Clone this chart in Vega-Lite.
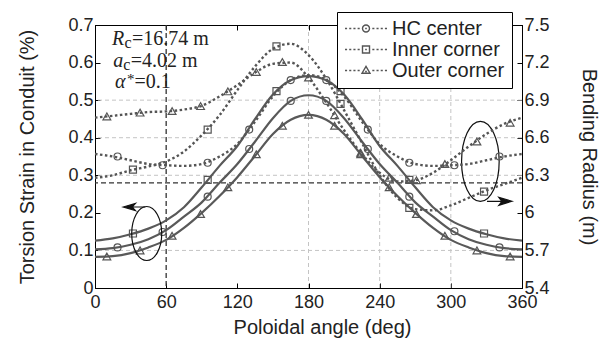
{
  "$schema": "https://vega.github.io/schema/vega-lite/v6.json",
  "width": 427,
  "height": 263,
  "autosize": {"type": "none"},
  "padding": {"left": 95, "top": 25, "right": 85, "bottom": 50},
  "config": {
    "view": {"stroke": "#000", "strokeWidth": 1},
    "axis": {
      "labelFont": "Liberation Sans", "labelFontSize": 18, "labelColor": "#222",
      "titleFont": "Liberation Sans", "titleFontSize": 20, "titleFontWeight": "normal", "titleColor": "#222",
      "domainColor": "#000", "tickColor": "#000", "grid": false, "tickSize": -5, "labelPadding": 7,
      "labelOverlap": false, "labelFlush": false, "labelBound": false
    }
  },
  "datasets": {
    "strain": [
      {"loc": "Inner corner", "angle": 0, "strain": 0.126}, {"loc": "Inner corner", "angle": 15, "strain": 0.132},
      {"loc": "Inner corner", "angle": 30, "strain": 0.143}, {"loc": "Inner corner", "angle": 45, "strain": 0.158},
      {"loc": "Inner corner", "angle": 60, "strain": 0.18}, {"loc": "Inner corner", "angle": 75, "strain": 0.215},
      {"loc": "Inner corner", "angle": 90, "strain": 0.268}, {"loc": "Inner corner", "angle": 105, "strain": 0.325},
      {"loc": "Inner corner", "angle": 120, "strain": 0.378}, {"loc": "Inner corner", "angle": 135, "strain": 0.45},
      {"loc": "Inner corner", "angle": 150, "strain": 0.515}, {"loc": "Inner corner", "angle": 165, "strain": 0.553},
      {"loc": "Inner corner", "angle": 180, "strain": 0.564}, {"loc": "Inner corner", "angle": 195, "strain": 0.553},
      {"loc": "Inner corner", "angle": 210, "strain": 0.515}, {"loc": "Inner corner", "angle": 225, "strain": 0.45},
      {"loc": "Inner corner", "angle": 240, "strain": 0.378}, {"loc": "Inner corner", "angle": 255, "strain": 0.325},
      {"loc": "Inner corner", "angle": 270, "strain": 0.268}, {"loc": "Inner corner", "angle": 285, "strain": 0.215},
      {"loc": "Inner corner", "angle": 300, "strain": 0.18}, {"loc": "Inner corner", "angle": 315, "strain": 0.158},
      {"loc": "Inner corner", "angle": 330, "strain": 0.143}, {"loc": "Inner corner", "angle": 345, "strain": 0.132},
      {"loc": "Inner corner", "angle": 360, "strain": 0.126},
      {"loc": "HC center", "angle": 0, "strain": 0.103}, {"loc": "HC center", "angle": 15, "strain": 0.106},
      {"loc": "HC center", "angle": 30, "strain": 0.115}, {"loc": "HC center", "angle": 45, "strain": 0.13},
      {"loc": "HC center", "angle": 60, "strain": 0.154}, {"loc": "HC center", "angle": 75, "strain": 0.19},
      {"loc": "HC center", "angle": 90, "strain": 0.228}, {"loc": "HC center", "angle": 105, "strain": 0.28},
      {"loc": "HC center", "angle": 120, "strain": 0.33}, {"loc": "HC center", "angle": 135, "strain": 0.39},
      {"loc": "HC center", "angle": 150, "strain": 0.452}, {"loc": "HC center", "angle": 165, "strain": 0.498},
      {"loc": "HC center", "angle": 180, "strain": 0.513}, {"loc": "HC center", "angle": 195, "strain": 0.498},
      {"loc": "HC center", "angle": 210, "strain": 0.452}, {"loc": "HC center", "angle": 225, "strain": 0.39},
      {"loc": "HC center", "angle": 240, "strain": 0.33}, {"loc": "HC center", "angle": 255, "strain": 0.28},
      {"loc": "HC center", "angle": 270, "strain": 0.228}, {"loc": "HC center", "angle": 285, "strain": 0.19},
      {"loc": "HC center", "angle": 300, "strain": 0.154}, {"loc": "HC center", "angle": 315, "strain": 0.13},
      {"loc": "HC center", "angle": 330, "strain": 0.115}, {"loc": "HC center", "angle": 345, "strain": 0.106},
      {"loc": "HC center", "angle": 360, "strain": 0.103},
      {"loc": "Outer corner", "angle": 0, "strain": 0.083}, {"loc": "Outer corner", "angle": 15, "strain": 0.085},
      {"loc": "Outer corner", "angle": 30, "strain": 0.093}, {"loc": "Outer corner", "angle": 45, "strain": 0.108},
      {"loc": "Outer corner", "angle": 60, "strain": 0.128}, {"loc": "Outer corner", "angle": 75, "strain": 0.16},
      {"loc": "Outer corner", "angle": 90, "strain": 0.2}, {"loc": "Outer corner", "angle": 105, "strain": 0.245},
      {"loc": "Outer corner", "angle": 120, "strain": 0.295}, {"loc": "Outer corner", "angle": 135, "strain": 0.352},
      {"loc": "Outer corner", "angle": 150, "strain": 0.41}, {"loc": "Outer corner", "angle": 165, "strain": 0.448},
      {"loc": "Outer corner", "angle": 180, "strain": 0.461}, {"loc": "Outer corner", "angle": 195, "strain": 0.448},
      {"loc": "Outer corner", "angle": 210, "strain": 0.41}, {"loc": "Outer corner", "angle": 225, "strain": 0.352},
      {"loc": "Outer corner", "angle": 240, "strain": 0.295}, {"loc": "Outer corner", "angle": 255, "strain": 0.245},
      {"loc": "Outer corner", "angle": 270, "strain": 0.2}, {"loc": "Outer corner", "angle": 285, "strain": 0.16},
      {"loc": "Outer corner", "angle": 300, "strain": 0.128}, {"loc": "Outer corner", "angle": 315, "strain": 0.108},
      {"loc": "Outer corner", "angle": 330, "strain": 0.093}, {"loc": "Outer corner", "angle": 345, "strain": 0.085},
      {"loc": "Outer corner", "angle": 360, "strain": 0.083}
    ],
    "bend": [
      {"loc": "HC center", "angle": 0, "R": 6.47}, {"loc": "HC center", "angle": 15, "R": 6.45},
      {"loc": "HC center", "angle": 30, "R": 6.42}, {"loc": "HC center", "angle": 45, "R": 6.39},
      {"loc": "HC center", "angle": 60, "R": 6.38}, {"loc": "HC center", "angle": 75, "R": 6.375},
      {"loc": "HC center", "angle": 90, "R": 6.39}, {"loc": "HC center", "angle": 105, "R": 6.45},
      {"loc": "HC center", "angle": 120, "R": 6.55}, {"loc": "HC center", "angle": 135, "R": 6.73},
      {"loc": "HC center", "angle": 150, "R": 6.93}, {"loc": "HC center", "angle": 165, "R": 7.06},
      {"loc": "HC center", "angle": 180, "R": 7.1}, {"loc": "HC center", "angle": 195, "R": 7.06},
      {"loc": "HC center", "angle": 210, "R": 6.93}, {"loc": "HC center", "angle": 225, "R": 6.73},
      {"loc": "HC center", "angle": 240, "R": 6.55}, {"loc": "HC center", "angle": 255, "R": 6.45},
      {"loc": "HC center", "angle": 270, "R": 6.39}, {"loc": "HC center", "angle": 285, "R": 6.375},
      {"loc": "HC center", "angle": 300, "R": 6.38}, {"loc": "HC center", "angle": 315, "R": 6.39},
      {"loc": "HC center", "angle": 330, "R": 6.42}, {"loc": "HC center", "angle": 345, "R": 6.45},
      {"loc": "HC center", "angle": 360, "R": 6.47},
      {"loc": "Inner corner", "angle": 0, "R": 6.28}, {"loc": "Inner corner", "angle": 15, "R": 6.3},
      {"loc": "Inner corner", "angle": 30, "R": 6.34}, {"loc": "Inner corner", "angle": 45, "R": 6.37},
      {"loc": "Inner corner", "angle": 60, "R": 6.41}, {"loc": "Inner corner", "angle": 75, "R": 6.49},
      {"loc": "Inner corner", "angle": 90, "R": 6.62}, {"loc": "Inner corner", "angle": 105, "R": 6.78},
      {"loc": "Inner corner", "angle": 120, "R": 6.98}, {"loc": "Inner corner", "angle": 135, "R": 7.17},
      {"loc": "Inner corner", "angle": 150, "R": 7.31}, {"loc": "Inner corner", "angle": 165, "R": 7.35},
      {"loc": "Inner corner", "angle": 180, "R": 7.26}, {"loc": "Inner corner", "angle": 195, "R": 7.07},
      {"loc": "Inner corner", "angle": 210, "R": 6.82}, {"loc": "Inner corner", "angle": 225, "R": 6.56},
      {"loc": "Inner corner", "angle": 240, "R": 6.3}, {"loc": "Inner corner", "angle": 255, "R": 6.12},
      {"loc": "Inner corner", "angle": 270, "R": 6.03}, {"loc": "Inner corner", "angle": 285, "R": 6.02},
      {"loc": "Inner corner", "angle": 300, "R": 6.06}, {"loc": "Inner corner", "angle": 315, "R": 6.12},
      {"loc": "Inner corner", "angle": 330, "R": 6.18}, {"loc": "Inner corner", "angle": 345, "R": 6.23},
      {"loc": "Inner corner", "angle": 360, "R": 6.28},
      {"loc": "Outer corner", "angle": 0, "R": 6.76}, {"loc": "Outer corner", "angle": 15, "R": 6.775},
      {"loc": "Outer corner", "angle": 30, "R": 6.79}, {"loc": "Outer corner", "angle": 45, "R": 6.805},
      {"loc": "Outer corner", "angle": 60, "R": 6.81}, {"loc": "Outer corner", "angle": 75, "R": 6.825},
      {"loc": "Outer corner", "angle": 90, "R": 6.855}, {"loc": "Outer corner", "angle": 105, "R": 6.93},
      {"loc": "Outer corner", "angle": 120, "R": 7.02}, {"loc": "Outer corner", "angle": 135, "R": 7.12},
      {"loc": "Outer corner", "angle": 150, "R": 7.19}, {"loc": "Outer corner", "angle": 165, "R": 7.2},
      {"loc": "Outer corner", "angle": 180, "R": 7.08}, {"loc": "Outer corner", "angle": 195, "R": 6.88},
      {"loc": "Outer corner", "angle": 210, "R": 6.66}, {"loc": "Outer corner", "angle": 225, "R": 6.47},
      {"loc": "Outer corner", "angle": 240, "R": 6.32}, {"loc": "Outer corner", "angle": 255, "R": 6.25},
      {"loc": "Outer corner", "angle": 270, "R": 6.26}, {"loc": "Outer corner", "angle": 285, "R": 6.32},
      {"loc": "Outer corner", "angle": 300, "R": 6.42}, {"loc": "Outer corner", "angle": 315, "R": 6.53},
      {"loc": "Outer corner", "angle": 330, "R": 6.63}, {"loc": "Outer corner", "angle": 345, "R": 6.71},
      {"loc": "Outer corner", "angle": 360, "R": 6.76}
    ],
    "strainMk": [
      {"loc": "Inner corner", "angle": 32, "strain": 0.145}, {"loc": "Inner corner", "angle": 95, "strain": 0.288},
      {"loc": "Inner corner", "angle": 153, "strain": 0.524}, {"loc": "Inner corner", "angle": 207, "strain": 0.524},
      {"loc": "Inner corner", "angle": 265, "strain": 0.288}, {"loc": "Inner corner", "angle": 328, "strain": 0.145},
      {"loc": "HC center", "angle": 19, "strain": 0.108}, {"loc": "HC center", "angle": 57, "strain": 0.149},
      {"loc": "HC center", "angle": 95, "strain": 0.243}, {"loc": "HC center", "angle": 130, "strain": 0.37},
      {"loc": "HC center", "angle": 165, "strain": 0.498}, {"loc": "HC center", "angle": 195, "strain": 0.498},
      {"loc": "HC center", "angle": 230, "strain": 0.37}, {"loc": "HC center", "angle": 265, "strain": 0.243},
      {"loc": "HC center", "angle": 303, "strain": 0.151}, {"loc": "HC center", "angle": 341, "strain": 0.108},
      {"loc": "Outer corner", "angle": 10, "strain": 0.084}, {"loc": "Outer corner", "angle": 38, "strain": 0.1},
      {"loc": "Outer corner", "angle": 65, "strain": 0.139}, {"loc": "Outer corner", "angle": 89, "strain": 0.197},
      {"loc": "Outer corner", "angle": 112, "strain": 0.268}, {"loc": "Outer corner", "angle": 136, "strain": 0.356},
      {"loc": "Outer corner", "angle": 158, "strain": 0.432}, {"loc": "Outer corner", "angle": 180, "strain": 0.461},
      {"loc": "Outer corner", "angle": 202, "strain": 0.432}, {"loc": "Outer corner", "angle": 224, "strain": 0.356},
      {"loc": "Outer corner", "angle": 248, "strain": 0.268}, {"loc": "Outer corner", "angle": 271, "strain": 0.197},
      {"loc": "Outer corner", "angle": 295, "strain": 0.139}, {"loc": "Outer corner", "angle": 322, "strain": 0.1},
      {"loc": "Outer corner", "angle": 350, "strain": 0.084}
    ],
    "bendMk": [
      {"loc": "Inner corner", "angle": 32, "R": 6.345}, {"loc": "Inner corner", "angle": 95, "R": 6.665},
      {"loc": "Inner corner", "angle": 153, "R": 7.33}, {"loc": "Inner corner", "angle": 207, "R": 6.87},
      {"loc": "Inner corner", "angle": 265, "R": 6.04}, {"loc": "Inner corner", "angle": 328, "R": 6.17},
      {"loc": "HC center", "angle": 19, "R": 6.45}, {"loc": "HC center", "angle": 57, "R": 6.38},
      {"loc": "HC center", "angle": 95, "R": 6.4}, {"loc": "HC center", "angle": 130, "R": 6.665},
      {"loc": "HC center", "angle": 165, "R": 7.06}, {"loc": "HC center", "angle": 195, "R": 7.06},
      {"loc": "HC center", "angle": 230, "R": 6.665}, {"loc": "HC center", "angle": 265, "R": 6.4},
      {"loc": "HC center", "angle": 303, "R": 6.38}, {"loc": "HC center", "angle": 341, "R": 6.45},
      {"loc": "Outer corner", "angle": 10, "R": 6.77}, {"loc": "Outer corner", "angle": 38, "R": 6.8},
      {"loc": "Outer corner", "angle": 65, "R": 6.813}, {"loc": "Outer corner", "angle": 89, "R": 6.852},
      {"loc": "Outer corner", "angle": 112, "R": 6.97}, {"loc": "Outer corner", "angle": 136, "R": 7.125},
      {"loc": "Outer corner", "angle": 158, "R": 7.205}, {"loc": "Outer corner", "angle": 180, "R": 7.08},
      {"loc": "Outer corner", "angle": 202, "R": 6.78}, {"loc": "Outer corner", "angle": 224, "R": 6.48},
      {"loc": "Outer corner", "angle": 248, "R": 6.28}, {"loc": "Outer corner", "angle": 271, "R": 6.26},
      {"loc": "Outer corner", "angle": 295, "R": 6.39}, {"loc": "Outer corner", "angle": 322, "R": 6.57},
      {"loc": "Outer corner", "angle": 350, "R": 6.72}
    ],
    "notes": [
      {"line": 1, "angle": 14.3, "strain": 0.646},
      {"line": 2, "angle": 15.4, "strain": 0.588},
      {"line": 3, "angle": 16.9, "strain": 0.532}
    ],
    "marks": [
      {"kind": "ellipseL", "angle": 43.6, "strain": 0.145},
      {"kind": "ellipseR", "angle": 324.9, "strain": 0.337},
      {"kind": "arrowL", "angle": 33.1, "strain": 0.2156},
      {"kind": "arrowR", "angle": 341, "strain": 0.2308}
    ],
    "legendKeys": [
      {"loc": "HC center", "angle": -50, "strain": 0.1},
      {"loc": "Inner corner", "angle": -50, "strain": 0.1},
      {"loc": "Outer corner", "angle": -50, "strain": 0.1}
    ]
  },
  "layer": [
    {
      "layer": [
        {
          "data": {"values": [{"strain": 0.1}, {"strain": 0.3}, {"strain": 0.4}, {"strain": 0.5}]},
          "mark": {"type": "rule", "color": "#c4c4c4", "strokeDash": [4, 3], "strokeWidth": 1},
          "encoding": {"y": {"field": "strain", "type": "quantitative", "scale": {"domain": [0, 0.7], "nice": false},
            "axis": {"orient": "left", "values": [0, 0.1, 0.2, 0.3, 0.4, 0.5, 0.6, 0.7], "tickCount": 20, "format": "~g",
              "labelOverlap": false, "labelFlush": false, "labelBound": false,
              "title": "Torsion Strain in Conduit (%)", "titleAngle": -90, "titleX": -62, "titleY": 131.5,
              "titleBaseline": "alphabetic", "titleAlign": "center"}}}
        },
        {
          "data": {"values": [{"angle": 180}, {"angle": 240}, {"angle": 300}]},
          "mark": {"type": "rule", "color": "#c4c4c4", "strokeDash": [4, 3], "strokeWidth": 1},
          "encoding": {"x": {"field": "angle", "type": "quantitative", "scale": {"domain": [0, 360], "nice": false},
            "axis": {"orient": "bottom", "values": [0, 60, 120, 180, 240, 300, 360], "tickCount": 20, "title": "Poloidal angle (deg)",
              "labelOverlap": false, "labelFlush": false, "labelBound": false, "labelPadding": 10,
              "titleX": 227, "titleY": 45, "titleBaseline": "alphabetic", "titleAlign": "center"}}}
        },
        {
          "data": {"values": [{"strain": 0.28}]},
          "mark": {"type": "rule", "color": "#333", "strokeDash": [5, 3], "strokeWidth": 1.3},
          "encoding": {"y": {"field": "strain", "type": "quantitative", "scale": {"domain": [0, 0.7], "nice": false}}}
        },
        {
          "data": {"values": [{"angle": 60}]},
          "mark": {"type": "rule", "color": "#333", "strokeDash": [5, 3], "strokeWidth": 1.3},
          "encoding": {"x": {"field": "angle", "type": "quantitative", "scale": {"domain": [0, 360], "nice": false}}}
        },
        {
          "data": {"name": "strain"},
          "mark": {"type": "line", "interpolate": "monotone", "color": "#595959", "strokeWidth": 2.2},
          "encoding": {
            "detail": {"field": "loc"},
            "x": {"field": "angle", "type": "quantitative", "scale": {"domain": [0, 360], "nice": false}},
            "y": {"field": "strain", "type": "quantitative", "scale": {"domain": [0, 0.7], "nice": false}}
          }
        },
        {
          "data": {"name": "strainMk"},
          "transform": [{"filter": "datum.loc == 'HC center'"}],
          "mark": {"type": "point", "shape": "circle", "filled": false, "color": "#555", "strokeWidth": 1.2, "size": 49, "opacity": 1},
          "encoding": {
            "x": {"field": "angle", "type": "quantitative", "scale": {"domain": [0, 360], "nice": false}},
            "y": {"field": "strain", "type": "quantitative", "scale": {"domain": [0, 0.7], "nice": false}}
          }
        },
        {
          "data": {"name": "strainMk"},
          "transform": [{"filter": "datum.loc == 'Inner corner'"}],
          "mark": {"type": "point", "shape": "square", "filled": false, "color": "#555", "strokeWidth": 1.2, "size": 49, "opacity": 1},
          "encoding": {
            "x": {"field": "angle", "type": "quantitative", "scale": {"domain": [0, 360], "nice": false}},
            "y": {"field": "strain", "type": "quantitative", "scale": {"domain": [0, 0.7], "nice": false}}
          }
        },
        {
          "data": {"name": "strainMk"},
          "transform": [{"filter": "datum.loc == 'Outer corner'"}],
          "mark": {"type": "point", "shape": "triangle-up", "filled": false, "color": "#555", "strokeWidth": 1.2, "size": 60, "opacity": 1},
          "encoding": {
            "x": {"field": "angle", "type": "quantitative", "scale": {"domain": [0, 360], "nice": false}},
            "y": {"field": "strain", "type": "quantitative", "scale": {"domain": [0, 0.7], "nice": false}}
          }
        },
        {
          "data": {"name": "marks"},
          "transform": [{"filter": "datum.kind == 'ellipseL'"}],
          "mark": {"type": "point", "shape": "M0,-1A0.556,1,0,1,1,0,1A0.556,1,0,1,1,0,-1Z", "filled": false, "color": "#111", "strokeWidth": 1.2, "size": 2916, "opacity": 1},
          "encoding": {
            "x": {"field": "angle", "type": "quantitative", "scale": {"domain": [0, 360], "nice": false}},
            "y": {"field": "strain", "type": "quantitative", "scale": {"domain": [0, 0.7], "nice": false}}
          }
        },
        {
          "data": {"name": "marks"},
          "transform": [{"filter": "datum.kind == 'ellipseR'"}],
          "mark": {"type": "point", "shape": "M0,-1A0.47,1,0,1,1,0,1A0.47,1,0,1,1,0,-1Z", "filled": false, "color": "#111", "strokeWidth": 1.2, "size": 6400, "opacity": 1},
          "encoding": {
            "x": {"field": "angle", "type": "quantitative", "scale": {"domain": [0, 360], "nice": false}},
            "y": {"field": "strain", "type": "quantitative", "scale": {"domain": [0, 0.7], "nice": false}}
          }
        },
        {
          "data": {"name": "marks"},
          "transform": [{"filter": "datum.kind == 'arrowL'"}],
          "mark": {"type": "point", "shape": "M1,0L-0.5,0M-1,0L0.1,-0.32L-0.2,0L0.1,0.32Z", "filled": true, "color": "#111", "stroke": "#111", "strokeWidth": 1.2, "size": 484, "opacity": 1},
          "encoding": {
            "x": {"field": "angle", "type": "quantitative", "scale": {"domain": [0, 360], "nice": false}},
            "y": {"field": "strain", "type": "quantitative", "scale": {"domain": [0, 0.7], "nice": false}}
          }
        },
        {
          "data": {"name": "marks"},
          "transform": [{"filter": "datum.kind == 'arrowR'"}],
          "mark": {"type": "point", "shape": "M-1,0L0.5,0M1,0L-0.05,-0.32L0.2,0L-0.05,0.32Z", "filled": true, "color": "#111", "stroke": "#111", "strokeWidth": 1.2, "size": 625, "opacity": 1},
          "encoding": {
            "x": {"field": "angle", "type": "quantitative", "scale": {"domain": [0, 360], "nice": false}},
            "y": {"field": "strain", "type": "quantitative", "scale": {"domain": [0, 0.7], "nice": false}}
          }
        },
        {
          "data": {"name": "notes"},
          "transform": [{"filter": "datum.line == 1"}],
          "mark": {"type": "text", "text": "R", "font": "Liberation Serif", "fontStyle": "italic", "fontSize": 20, "align": "left", "baseline": "alphabetic", "color": "#222"},
          "encoding": {
            "x": {"field": "angle", "type": "quantitative", "scale": {"domain": [0, 360], "nice": false}},
            "y": {"field": "strain", "type": "quantitative", "scale": {"domain": [0, 0.7], "nice": false}}
          }
        },
        {
          "data": {"name": "notes"},
          "transform": [{"filter": "datum.line == 1"}],
          "mark": {"type": "text", "text": "c", "font": "Liberation Serif", "fontSize": 16, "align": "left", "baseline": "alphabetic", "dx": 12.5, "dy": 3, "color": "#222"},
          "encoding": {
            "x": {"field": "angle", "type": "quantitative", "scale": {"domain": [0, 360], "nice": false}},
            "y": {"field": "strain", "type": "quantitative", "scale": {"domain": [0, 0.7], "nice": false}}
          }
        },
        {
          "data": {"name": "notes"},
          "transform": [{"filter": "datum.line == 1"}],
          "mark": {"type": "text", "text": "=16.74 m", "font": "Liberation Serif", "fontSize": 20, "align": "left", "baseline": "alphabetic", "dx": 20, "color": "#222"},
          "encoding": {
            "x": {"field": "angle", "type": "quantitative", "scale": {"domain": [0, 360], "nice": false}},
            "y": {"field": "strain", "type": "quantitative", "scale": {"domain": [0, 0.7], "nice": false}}
          }
        },
        {
          "data": {"name": "notes"},
          "transform": [{"filter": "datum.line == 2"}],
          "mark": {"type": "text", "text": "a", "font": "Liberation Serif", "fontStyle": "italic", "fontSize": 20, "align": "left", "baseline": "alphabetic", "color": "#222"},
          "encoding": {
            "x": {"field": "angle", "type": "quantitative", "scale": {"domain": [0, 360], "nice": false}},
            "y": {"field": "strain", "type": "quantitative", "scale": {"domain": [0, 0.7], "nice": false}}
          }
        },
        {
          "data": {"name": "notes"},
          "transform": [{"filter": "datum.line == 2"}],
          "mark": {"type": "text", "text": "c", "font": "Liberation Serif", "fontSize": 16, "align": "left", "baseline": "alphabetic", "dx": 10, "dy": 3, "color": "#222"},
          "encoding": {
            "x": {"field": "angle", "type": "quantitative", "scale": {"domain": [0, 360], "nice": false}},
            "y": {"field": "strain", "type": "quantitative", "scale": {"domain": [0, 0.7], "nice": false}}
          }
        },
        {
          "data": {"name": "notes"},
          "transform": [{"filter": "datum.line == 2"}],
          "mark": {"type": "text", "text": "=4.02 m", "font": "Liberation Serif", "fontSize": 20, "align": "left", "baseline": "alphabetic", "dx": 17.5, "color": "#222"},
          "encoding": {
            "x": {"field": "angle", "type": "quantitative", "scale": {"domain": [0, 360], "nice": false}},
            "y": {"field": "strain", "type": "quantitative", "scale": {"domain": [0, 0.7], "nice": false}}
          }
        },
        {
          "data": {"name": "notes"},
          "transform": [{"filter": "datum.line == 3"}],
          "mark": {"type": "text", "text": "α", "font": "Liberation Serif", "fontStyle": "italic", "fontSize": 20, "align": "left", "baseline": "alphabetic", "color": "#222"},
          "encoding": {
            "x": {"field": "angle", "type": "quantitative", "scale": {"domain": [0, 360], "nice": false}},
            "y": {"field": "strain", "type": "quantitative", "scale": {"domain": [0, 0.7], "nice": false}}
          }
        },
        {
          "data": {"name": "notes"},
          "transform": [{"filter": "datum.line == 3"}],
          "mark": {"type": "text", "text": "*", "font": "Liberation Serif", "fontSize": 15, "align": "left", "baseline": "alphabetic", "dx": 12, "dy": -4, "color": "#222"},
          "encoding": {
            "x": {"field": "angle", "type": "quantitative", "scale": {"domain": [0, 360], "nice": false}},
            "y": {"field": "strain", "type": "quantitative", "scale": {"domain": [0, 0.7], "nice": false}}
          }
        },
        {
          "data": {"name": "notes"},
          "transform": [{"filter": "datum.line == 3"}],
          "mark": {"type": "text", "text": "=0.1", "font": "Liberation Serif", "fontSize": 20, "align": "left", "baseline": "alphabetic", "dx": 19.5, "color": "#222"},
          "encoding": {
            "x": {"field": "angle", "type": "quantitative", "scale": {"domain": [0, 360], "nice": false}},
            "y": {"field": "strain", "type": "quantitative", "scale": {"domain": [0, 0.7], "nice": false}}
          }
        },
        {
          "data": {"name": "legendKeys"},
          "mark": {"type": "point", "clip": true, "filled": false, "color": "#555", "strokeWidth": 1.4, "size": 1764, "opacity": 1},
          "encoding": {
            "x": {"field": "angle", "type": "quantitative", "scale": {"domain": [0, 360], "nice": false}},
            "y": {"field": "strain", "type": "quantitative", "scale": {"domain": [0, 0.7], "nice": false}},
            "shape": {
              "field": "loc", "type": "nominal",
              "scale": {
                "domain": ["HC center", "Inner corner", "Outer corner"],
                "range": [
                  "M-1,0h0.1M-0.8,0h0.1M-0.6,0h0.1M-0.4,0h0.1M0.3,0h0.1M0.5,0h0.1M0.7,0h0.1M0.9,0h0.1M-0.04,0h0.08M0.167,0A0.167,0.167,0,1,1,-0.167,0A0.167,0.167,0,1,1,0.167,0Z",
                  "M-1,0h0.1M-0.8,0h0.1M-0.6,0h0.1M-0.4,0h0.1M0.3,0h0.1M0.5,0h0.1M0.7,0h0.1M0.9,0h0.1M-0.04,0h0.08M-0.167,-0.167h0.334v0.334h-0.334Z",
                  "M-1,0h0.1M-0.8,0h0.1M-0.6,0h0.1M-0.4,0h0.1M0.3,0h0.1M0.5,0h0.1M0.7,0h0.1M0.9,0h0.1M-0.04,0.05h0.08M0,-0.2L0.19,0.13L-0.19,0.13Z"
                ]
              },
              "legend": {
                "title": null, "orient": "none", "legendX": 242, "legendY": -13, "padding": 7,
                "strokeColor": "#000", "fillColor": "#fff", "cornerRadius": 0,
                "symbolSize": 1764, "clipHeight": 19, "rowPadding": 0,
                "labelFont": "Liberation Sans", "labelFontSize": 20, "labelColor": "#222", "labelOffset": 4,
                "symbolStrokeWidth": 1.4, "symbolStrokeColor": "#555", "symbolFillColor": "transparent"
              }
            }
          }
        }
      ]
    },
    {
      "layer": [
        {
          "data": {"name": "bend"},
          "mark": {"type": "line", "interpolate": "monotone", "color": "#555", "strokeWidth": 2.4, "strokeDash": [2.5, 2.5]},
          "encoding": {
            "detail": {"field": "loc"},
            "x": {"field": "angle", "type": "quantitative", "scale": {"domain": [0, 360], "nice": false},
              "axis": {"orient": "top", "values": [0, 60, 120, 180, 240, 300, 360], "tickCount": 20, "labels": false, "title": null}},
            "y": {"field": "R", "type": "quantitative", "scale": {"domain": [5.4, 7.5], "nice": false, "zero": false},
              "axis": {"orient": "right", "values": [5.4, 5.7, 6, 6.3, 6.6, 6.9, 7.2, 7.5], "tickCount": 20, "format": "~g",
                "labelOverlap": false, "labelFlush": false, "labelBound": false,
                "title": "Bending Radius (m)", "titleAngle": 90, "titleX": 60, "titleY": 131.5,
                "titleBaseline": "alphabetic", "titleAlign": "center"}}
          }
        },
        {
          "data": {"name": "bendMk"},
          "transform": [{"filter": "datum.loc == 'HC center'"}],
          "mark": {"type": "point", "shape": "circle", "filled": false, "color": "#555", "strokeWidth": 1.2, "size": 49, "opacity": 1},
          "encoding": {
            "x": {"field": "angle", "type": "quantitative", "scale": {"domain": [0, 360], "nice": false}},
            "y": {"field": "R", "type": "quantitative", "scale": {"domain": [5.4, 7.5], "nice": false, "zero": false}}
          }
        },
        {
          "data": {"name": "bendMk"},
          "transform": [{"filter": "datum.loc == 'Inner corner'"}],
          "mark": {"type": "point", "shape": "square", "filled": false, "color": "#555", "strokeWidth": 1.2, "size": 49, "opacity": 1},
          "encoding": {
            "x": {"field": "angle", "type": "quantitative", "scale": {"domain": [0, 360], "nice": false}},
            "y": {"field": "R", "type": "quantitative", "scale": {"domain": [5.4, 7.5], "nice": false, "zero": false}}
          }
        },
        {
          "data": {"name": "bendMk"},
          "transform": [{"filter": "datum.loc == 'Outer corner'"}],
          "mark": {"type": "point", "shape": "triangle-up", "filled": false, "color": "#555", "strokeWidth": 1.2, "size": 60, "opacity": 1},
          "encoding": {
            "x": {"field": "angle", "type": "quantitative", "scale": {"domain": [0, 360], "nice": false}},
            "y": {"field": "R", "type": "quantitative", "scale": {"domain": [5.4, 7.5], "nice": false, "zero": false}}
          }
        }
      ]
    }
  ],
  "resolve": {"scale": {"y": "independent"}, "axis": {"x": "independent"}}
}
